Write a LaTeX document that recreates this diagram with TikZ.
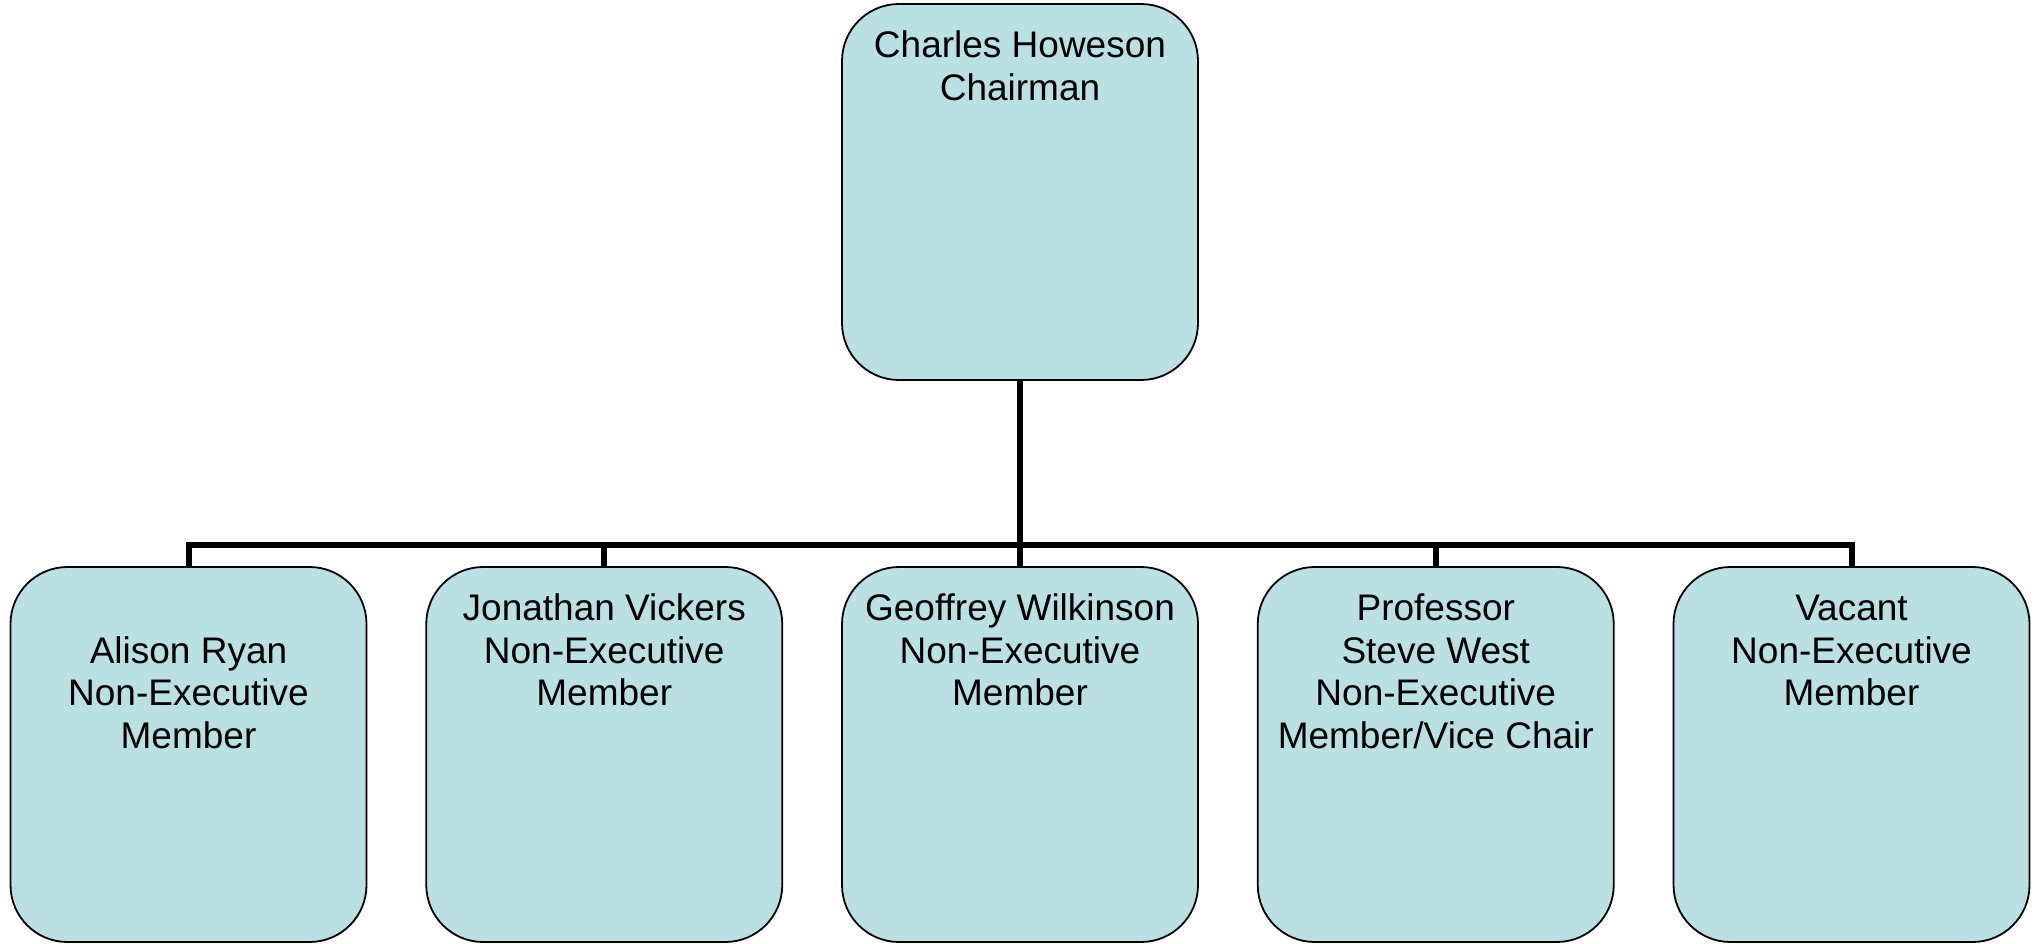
\documentclass[tikz,border=0pt]{standalone}
\usepackage{fontspec}
\setmainfont{Liberation Sans}
\definecolor{boxfill}{HTML}{BBE0E3}
\begin{document}
\begin{tikzpicture}[x=1pt,y=1pt,
  orgbox/.style={draw=black, line width=1.8pt, fill=boxfill, rounded corners=57pt,
    minimum width=356pt, minimum height=375pt, inner sep=0pt},
  orgtext/.style={anchor=north, inner sep=0pt, align=center,
    font=\fontsize{37pt}{42.5pt}\selectfont},
  link/.style={draw=black, line width=6pt}]
\useasboundingbox (0,0) rectangle (2036,-944);
\node[orgbox, minimum height=376pt] (top) at (1020,-192) {};
\node[orgbox] (c1) at (188.5,-754.5) {};
\node[orgbox] (c2) at (604.25,-754.5) {};
\node[orgbox] (c3) at (1020,-754.5) {};
\node[orgbox] (c4) at (1435.75,-754.5) {};
\node[orgbox] (c5) at (1851.5,-754.5) {};
\node[orgtext] (ttop) at ([yshift=-26.5pt]top.north) {\rule{0pt}{28pt}Charles Howeson\\Chairman};
\node[orgtext] (t1) at ([yshift=-69pt]c1.north) {\rule{0pt}{28pt}Alison Ryan\\Non-Executive\\Member};
\node[orgtext] (t2) at ([yshift=-26.5pt]c2.north) {\rule{0pt}{28pt}Jonathan Vickers\\Non-Executive\\Member};
\node[orgtext] (t3) at ([yshift=-26.5pt]c3.north) {\rule{0pt}{28pt}Geoffrey Wilkinson\\Non-Executive\\Member};
\node[orgtext] (t4) at ([yshift=-26.5pt]c4.north) {\rule{0pt}{28pt}Professor\\Steve West\\Non-Executive\\Member/Vice Chair};
\node[orgtext] (t5) at ([yshift=-26.5pt]c5.north) {\rule{0pt}{28pt}Vacant\\Non-Executive\\Member};
\coordinate (bus) at (1020,-545);
\draw[link] (top.south) -- (c3.north);
\draw[link] (bus) -| (c1.north);
\draw[link] (bus) -| (c2.north);
\draw[link] (bus) -| (c4.north);
\draw[link] (bus) -| (c5.north);
\end{tikzpicture}
\end{document}
